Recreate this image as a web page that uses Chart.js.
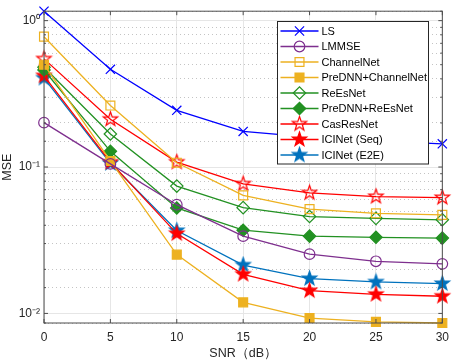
<!DOCTYPE html>
<html>
<head>
<meta charset="utf-8">
<script src="https://cdn.jsdelivr.net/npm/chart.js@4.4.0/dist/chart.umd.min.js"></script>
<style>
  html, body { margin: 0; padding: 0; background: #fff; }
  #wrap { width: 456px; height: 360px; }
</style>
</head>
<body>
<div id="wrap"><canvas id="chart-1"></canvas></div>
<script>
// SNR (dB) and MSE per method
const snr = [0, 5, 10, 15, 20, 25, 30];
const ls = [1.16, 0.465, 0.244, 0.175, 0.160, 0.151, 0.144];
const lmmse = [0.201, 0.105, 0.0553, 0.0337, 0.0254, 0.0227, 0.0218];
const channelNet = [0.777, 0.263, 0.107, 0.064, 0.0516, 0.0483, 0.0471];
const preChannelNet = [0.50, 0.11, 0.0252, 0.0119, 0.0093, 0.00875, 0.0086];
const reEsNet = [0.48, 0.168, 0.0741, 0.0528, 0.0459, 0.0446, 0.0436];
const preReEsNet = [0.46, 0.128, 0.0525, 0.037, 0.0337, 0.0331, 0.0327];
const casResNet = [0.548, 0.212, 0.108, 0.0767, 0.0666, 0.0628, 0.0618];
const iciSeq = [0.42, 0.108, 0.0351, 0.0185, 0.0143, 0.0135, 0.0131];
const iciE2E = [0.405, 0.106, 0.0368, 0.0214, 0.0173, 0.0164, 0.0160];

const xTicks = [0, 5, 10, 15, 20, 25, 30];
const yMajorLabels = ['10⁻²', '10⁻¹', '10⁰'];  // for exponents -2, -1, 0
const yMin = 0.0086, yMax = 1.16;

const FONT = "'Liberation Sans', Arial, Helvetica, sans-serif";
const AXIS = '#4d4d4d';

function isMajor(v) {
  const e = Math.log10(v);
  return Math.abs(e - Math.round(e)) < 1e-6;
}

// pentagram marker, like matlab 'p'
function star(r, fill, stroke) {
  const c = document.createElement('canvas');
  const s = Math.ceil(2 * r + 4);
  c.width = c.height = s;
  const g = c.getContext('2d');
  g.translate(s / 2, s / 2);
  g.beginPath();
  for (let i = 0; i < 10; i++) {
    const rr = i % 2 === 0 ? r : r * 0.4;
    const a = -Math.PI / 2 + i * Math.PI / 5;
    g.lineTo(rr * Math.cos(a), rr * Math.sin(a));
  }
  g.closePath();
  if (fill) { g.fillStyle = fill; g.fill(); }
  g.strokeStyle = stroke;
  g.lineWidth = 1.2;
  g.stroke();
  return c;
}

function series(label, values, color, style, radius, filled) {
  return {
    label: label,
    data: snr.map((x, i) => ({ x: x, y: values[i] })),
    borderColor: color,
    backgroundColor: filled ? color : 'rgba(0,0,0,0)',
    pointBorderColor: color,
    pointBackgroundColor: filled ? color : 'rgba(0,0,0,0)',
    pointStyle: style,
    pointRadius: radius,
    pointHoverRadius: radius,
    pointBorderWidth: 1.2,
    borderWidth: 1.3,
    clip: false
  };
}

const blue = '#0000ff', purple = '#7e2f8e', orange = '#edb120',
      green = '#229122', red = '#ff0000', steel = '#0072bd';

const datasets = [
  series('LS', ls, blue, 'crossRot', 6.5, false),
  series('LMMSE', lmmse, purple, 'circle', 5.3, false),
  series('ChannelNet', channelNet, orange, 'rect', 6.3, false),
  series('PreDNN+ChannelNet', preChannelNet, orange, 'rect', 6.3, true),
  series('ReEsNet', reEsNet, green, 'rectRot', 6.2, false),
  series('PreDNN+ReEsNet', preReEsNet, green, 'rectRot', 6.2, true),
  series('CasResNet', casResNet, red, star(7.5, null, red), 7.5, false),
  series('ICINet (Seq)', iciSeq, red, star(7.5, red, red), 7.5, true),
  series('ICINet (E2E)', iciE2E, steel, star(7.5, steel, steel), 7.5, true)
];

// box round the axes with inward ticks
const frame = {
  id: 'frame',
  afterDatasetsDraw(chart) {
    const { ctx, chartArea: a } = chart;
    const xs = chart.scales.x, ys = chart.scales.y;
    ctx.save();
    ctx.strokeStyle = AXIS;
    ctx.lineWidth = 1;
    ctx.strokeRect(a.left, a.top, a.right - a.left, a.bottom - a.top);
    ctx.beginPath();
    xs.ticks.forEach(t => {
      const px = xs.getPixelForValue(t.value);
      ctx.moveTo(px, a.bottom); ctx.lineTo(px, a.bottom - 4);
      ctx.moveTo(px, a.top); ctx.lineTo(px, a.top + 4);
    });
    ys.ticks.forEach(t => {
      const py = ys.getPixelForValue(t.value);
      const len = isMajor(t.value) ? 4 : 2;
      ctx.moveTo(a.left, py); ctx.lineTo(a.left + len, py);
      ctx.moveTo(a.right, py); ctx.lineTo(a.right - len, py);
    });
    ctx.stroke();
    ctx.restore();
  }
};

// matlab style legend box inside the axes
const boxLegend = {
  id: 'boxLegend',
  afterDatasetsDraw(chart) {
    const { ctx, chartArea: a } = chart;
    const w = 151, rowH = 15.5;
    const x0 = Math.round(a.right - 14 - w) + 0.5;
    const y0 = Math.round(a.top + 10) + 0.5;
    const h = rowH * datasets.length + 3;
    ctx.save();
    ctx.fillStyle = '#fff';
    ctx.fillRect(x0, y0, w, h);
    ctx.strokeStyle = '#262626';
    ctx.lineWidth = 1;
    ctx.strokeRect(x0, y0, w, h);
    ctx.font = '11px ' + FONT;
    ctx.textBaseline = 'middle';
    chart.data.datasets.forEach((ds, i) => {
      const cy = y0 + 9.5 + i * rowH;
      ctx.strokeStyle = ds.borderColor;
      ctx.lineWidth = ds.borderWidth;
      ctx.beginPath();
      ctx.moveTo(x0 + 3, cy); ctx.lineTo(x0 + 41, cy);
      ctx.stroke();
      ctx.fillStyle = ds.pointBackgroundColor;
      ctx.lineWidth = ds.pointBorderWidth;
      Chart.helpers.drawPoint(ctx, {
        pointStyle: ds.pointStyle, radius: ds.pointRadius,
        rotation: 0, borderWidth: ds.pointBorderWidth
      }, x0 + 22, cy);
      ctx.fillStyle = '#000';
      ctx.fillText(ds.label, x0 + 44, cy + 0.5);
    });
    ctx.restore();
  }
};

new Chart(document.getElementById('chart-1'), {
  type: 'line',
  data: { datasets: datasets },
  options: {
    responsive: true,
    maintainAspectRatio: false,
    animation: false,
    events: [],
    layout: { padding: { left: 0, right: 9, top: 4, bottom: 0 } },
    plugins: { legend: { display: false }, tooltip: { enabled: false } },
    scales: {
      x: {
        type: 'linear',
        min: 0, max: 30,
        afterBuildTicks: s => { s.ticks = xTicks.map(v => ({ value: v })); },
        ticks: { color: '#262626', font: { family: FONT, size: 12 }, padding: 7 },
        grid: { color: '#e6e6e6', drawTicks: false },
        border: { display: false },
        title: { display: true, text: 'SNR（dB）', color: '#262626',
                 font: { family: FONT, size: 12.5 }, padding: { top: 4, bottom: -1 } },
        afterFit: s => { s.height = 37; }
      },
      y: {
        type: 'logarithmic',
        min: yMin, max: yMax,
        ticks: {
          autoSkip: false,
          color: '#262626',
          font: { family: FONT, size: 12 },
          padding: 4,
          callback: v => isMajor(v) ? yMajorLabels[Math.round(Math.log10(v)) + 2] : ''
        },
        grid: {
          drawTicks: false,
          color: c => (c.tick && isMajor(c.tick.value)) ? '#e6e6e6' : 'rgba(0,0,0,0)'
        },
        border: { display: false },
        title: { display: true, text: 'MSE', color: '#262626',
                 font: { family: FONT, size: 12.5 }, padding: 0 },
        afterFit: s => { s.width = 44; }
      },
      yMinor: {
        type: 'logarithmic',
        position: 'right',
        min: yMin, max: yMax,
        ticks: { display: false, autoSkip: false },
        grid: {
          drawTicks: false,
          color: c => (c.tick && !isMajor(c.tick.value)) ? '#c4c4c4' : 'rgba(0,0,0,0)'
        },
        border: { display: false, dash: [1, 3] },
        afterFit: s => { s.width = 0; }
      }
    }
  },
  plugins: [frame, boxLegend]
});
</script>
</body>
</html>
